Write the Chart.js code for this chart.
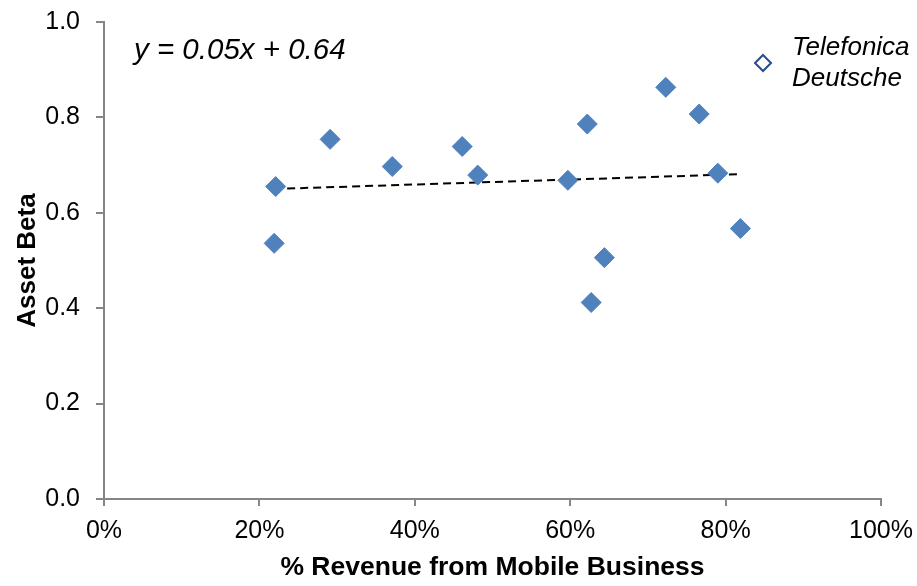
<!DOCTYPE html>
<html>
<head>
<meta charset="utf-8">
<script src="https://cdn.jsdelivr.net/npm/chart.js@4.4.1/dist/chart.umd.min.js"></script>
<style>
  html, body { margin: 0; padding: 0; background: #fff; }
  #wrap { width: 917px; height: 586px; position: relative; }
</style>
</head>
<body>
<div id="wrap"><canvas id="chart"></canvas></div>
<script>
// % revenue from mobile (fraction) and asset beta
const revenueShare = [0.221, 0.219, 0.291, 0.371, 0.461, 0.481, 0.597, 0.622, 0.627, 0.644, 0.723, 0.766, 0.790, 0.819];
const assetBeta    = [0.655, 0.536, 0.754, 0.697, 0.739, 0.679, 0.668, 0.786, 0.412, 0.506, 0.863, 0.807, 0.683, 0.567];

// linear trend line end points
const trendX = [0.219, 0.819];
const trendY = [0.650, 0.681];
const trendLabel = "y = 0.05x + 0.64";

const legendLines = ["Telefonica", "Deutsche"];

const axisColor = "#868686";
const fontFamily = "'Liberation Sans', Arial, sans-serif";

const overlayPlugin = {
  id: "overlay",
  afterDraw(chart) {
    const ctx = chart.ctx;
    ctx.save();
    // trend line equation
    ctx.fillStyle = "#000";
    ctx.font = "italic 29.5px " + fontFamily;
    ctx.textBaseline = "alphabetic";
    ctx.textAlign = "left";
    ctx.fillText(trendLabel, 134, 59);

    // legend entry: hollow diamond + two-line label
    const mx = 763, my = 63, r = 8;
    ctx.beginPath();
    ctx.moveTo(mx, my - r);
    ctx.lineTo(mx + r, my);
    ctx.lineTo(mx, my + r);
    ctx.lineTo(mx - r, my);
    ctx.closePath();
    ctx.fillStyle = "#fff";
    ctx.fill();
    ctx.strokeStyle = "#254C8C";
    ctx.lineWidth = 2;
    ctx.stroke();

    ctx.fillStyle = "#000";
    ctx.font = "italic 26px " + fontFamily;
    ctx.textBaseline = "middle";
    legendLines.forEach((line, i) => {
      ctx.fillText(line, 792, 48 + i * 31);
    });
    ctx.restore();
  }
};

new Chart(document.getElementById("chart"), {
  type: "scatter",
  data: {
    datasets: [
      {
        label: "Telefonica Deutsche",
        data: revenueShare.map((x, i) => ({ x: x, y: assetBeta[i] })),
        pointStyle: "rectRot",
        pointRadius: 10,
        pointHoverRadius: 10,
        backgroundColor: "#4F81BD",
        borderColor: "#4F81BD",
        borderWidth: 1,
      },
      {
        label: "Trend",
        type: "line",
        data: trendX.map((x, i) => ({ x: x, y: trendY[i] })),
        borderColor: "#000",
        borderWidth: 2,
        borderDash: [8, 5],
        pointRadius: 0,
        fill: false,
      },
    ],
  },
  options: {
    responsive: true,
    maintainAspectRatio: false,
    animation: false,
    events: [],
    layout: { padding: { top: 22, right: 36, left: 0, bottom: 0 } },
    plugins: {
      legend: { display: false },
      tooltip: { enabled: false },
    },
    scales: {
      x: {
        type: "linear",
        min: 0,
        max: 1,
        afterFit: (scale) => {
          scale.height = 87;
          scale.paddingLeft = 0;
          scale.paddingRight = 0;
        },
        ticks: {
          stepSize: 0.2,
          padding: 10,
          color: "#000",
          font: { family: fontFamily, size: 25 },
          maxRotation: 0,
          callback: (v) => Math.round(v * 100) + "%",
        },
        grid: { drawOnChartArea: false, drawTicks: true, tickLength: 7, color: axisColor, lineWidth: 2 },
        border: { color: axisColor, width: 2 },
        title: {
          display: true,
          text: "% Revenue from Mobile Business",
          color: "#000",
          font: { family: fontFamily, size: 26.5, weight: "bold" },
          padding: { top: 0, bottom: 2 },
        },
      },
      y: {
        min: 0,
        max: 1,
        afterFit: (scale) => {
          scale.width = 104;
          scale.paddingTop = 0;
          scale.paddingBottom = 0;
        },
        ticks: {
          stepSize: 0.2,
          padding: 16,
          color: "#000",
          font: { family: fontFamily, size: 25 },
          callback: (v) => v.toFixed(1),
        },
        grid: { drawOnChartArea: false, drawTicks: true, tickLength: 8, color: axisColor, lineWidth: 2 },
        border: { color: axisColor, width: 2 },
        title: {
          display: true,
          text: "Asset Beta",
          color: "#000",
          font: { family: fontFamily, size: 26, weight: "bold" },
          padding: { top: 12, bottom: 0 },
        },
      },
    },
  },
  plugins: [overlayPlugin],
});
</script>
</body>
</html>
